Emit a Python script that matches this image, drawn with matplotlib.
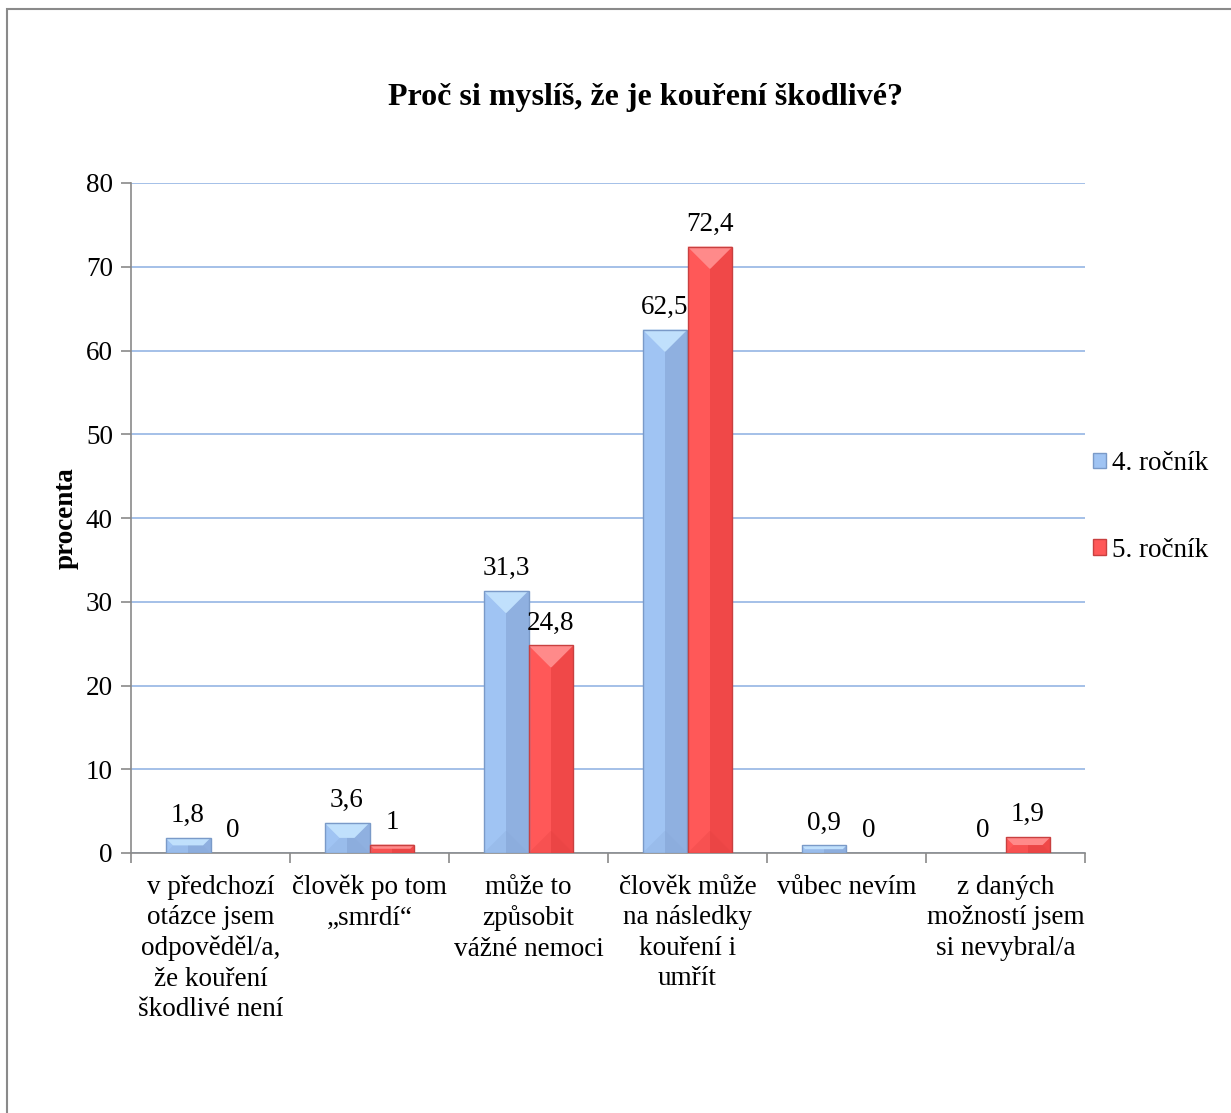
import matplotlib
matplotlib.use("Agg")
import matplotlib.pyplot as plt
from matplotlib.patches import Polygon, Rectangle, Patch
import numpy as np

categories = [
    "v předchozí\notázce jsem\nodpověděl/a,\nže kouření\nškodlivé není",
    "člověk po tom\n„smrdí“",
    "může to\nzpůsobit\nvážné nemoci",
    "člověk může\nna následky\nkouření i\numřít",
    "vůbec nevím",
    "z daných\nmožností jsem\nsi nevybral/a",
]
series_names = ["4. ročník", "5. ročník"]
values_4 = [1.8, 3.6, 31.3, 62.5, 0.9, 0]
values_5 = [0, 1, 24.8, 72.4, 0, 1.9]
y_ticks = [0, 10, 20, 30, 40, 50, 60, 70, 80]

plt.rcParams['font.family'] = ['Liberation Serif', 'DejaVu Serif']
FS = 19.5

W, H = 1231, 1113
fig = plt.figure(figsize=(W / 100, H / 100), dpi=100)
fig.patch.set_facecolor('white')

# outer frame (top and left visible)
fig.patches.append(Rectangle((7 / W, -0.2), 1.5, 1.2 - 9 / H,
                             transform=fig.transFigure, fill=False,
                             edgecolor='#8a8a8a', linewidth=1.5))

ax = fig.add_axes([131 / W, 1 - 853 / H, (1085 - 131) / W, (853 - 183) / H])
ax.set_xlim(-0.5, 5.5)
ax.set_ylim(0, 80)

styles = [
    dict(left='#A0C4F3', right='#8FB0E0', top='#C0E0FC', bottom='#86A6D6', edge='#7A9AC8'),
    dict(left='#FF5858', right='#F04848', top='#FF8A8A', bottom='#E04040', edge='#C84040'),
]

bw = 0.283
x = np.arange(len(categories))
ppu_y = (853 - 183) / 80.0
ppu_x = (1085 - 131) / 6.0

def draw_bar(xc, v, st):
    if v <= 0:
        return
    x0, x1 = xc - bw / 2, xc + bw / 2
    hpx = v * ppu_y
    wpx = bw * ppu_x
    d = min(22, hpx / 2, wpx / 2)
    dx = d / ppu_x
    dy = d / ppu_y
    xm = (x0 + x1) / 2
    ax.add_patch(Polygon([(x0, 0), (xm, 0), (xm, v), (x0, v)], closed=True,
                         facecolor=st['left'], edgecolor='none', zorder=3))
    ax.add_patch(Polygon([(xm, 0), (x1, 0), (x1, v), (xm, v)], closed=True,
                         facecolor=st['right'], edgecolor='none', zorder=3))
    ax.add_patch(Polygon([(x0, v), (x1, v), (x1 - dx, v - dy), (x0 + dx, v - dy)],
                         closed=True, facecolor=st['top'], edgecolor='none', zorder=4))
    ax.add_patch(Polygon([(x0, 0), (x1, 0), (x1 - dx, dy), (x0 + dx, dy)],
                         closed=True, facecolor=st['bottom'], edgecolor='none',
                         alpha=0.25, zorder=4))
    ax.add_patch(Rectangle((x0, 0), bw, v, fill=False, edgecolor=st['edge'],
                           linewidth=1.0, zorder=5))

def fmt(v):
    return ('%g' % v).replace('.', ',')

for i, (vals, st) in enumerate(zip([values_4, values_5], styles)):
    offs = -bw / 2 if i == 0 else bw / 2
    for xi, v in zip(x, vals):
        draw_bar(xi + offs, v, st)
        ax.annotate(fmt(v), (xi + offs, v), xytext=(0, 7), textcoords='offset points',
                    ha='center', va='bottom', fontsize=FS, color='black', zorder=6)

ax.set_yticks(y_ticks)
ax.yaxis.grid(True, color='#9DBBE6', linewidth=1.3)
ax.set_axisbelow(True)
ax.tick_params(axis='y', labelsize=FS, length=7, width=1.2, color='#8a8a8a', direction='out', pad=6)

ax.set_xticks(x)
ax.set_xticklabels(categories, fontsize=FS, linespacing=1.29, va='top')
ax.set_xticks(np.arange(-0.5, 6.0, 1.0), minor=True)
ax.tick_params(axis='x', which='major', length=0, pad=15.5)
ax.tick_params(axis='x', which='minor', length=7, width=1.2, color='#8a8a8a', direction='out')

for s in ['top', 'right']:
    ax.spines[s].set_visible(False)
for s in ['left', 'bottom']:
    ax.spines[s].set_color('#8a8a8a')
    ax.spines[s].set_linewidth(1.2)

ax.set_ylabel('procenta', fontsize=FS, fontweight='bold', labelpad=5)

fig.text(645 / W, 1 - 97 / H, 'Proč si myslíš, že je kouření škodlivé?',
         ha='center', va='center', fontsize=23, fontweight='bold')

handles = [Patch(facecolor=styles[0]['left'], edgecolor=styles[0]['edge']),
           Patch(facecolor=styles[1]['left'], edgecolor=styles[1]['edge'])]
fig.legend(handles, series_names, loc='center left',
           bbox_to_anchor=(1079 / W, 1 - 507 / H), frameon=False, fontsize=FS,
           handlelength=0.5, handleheight=0.5, handletextpad=0.2, labelspacing=2.27,
           borderpad=0)

fig.savefig('out.png', dpi=100, facecolor='white')
